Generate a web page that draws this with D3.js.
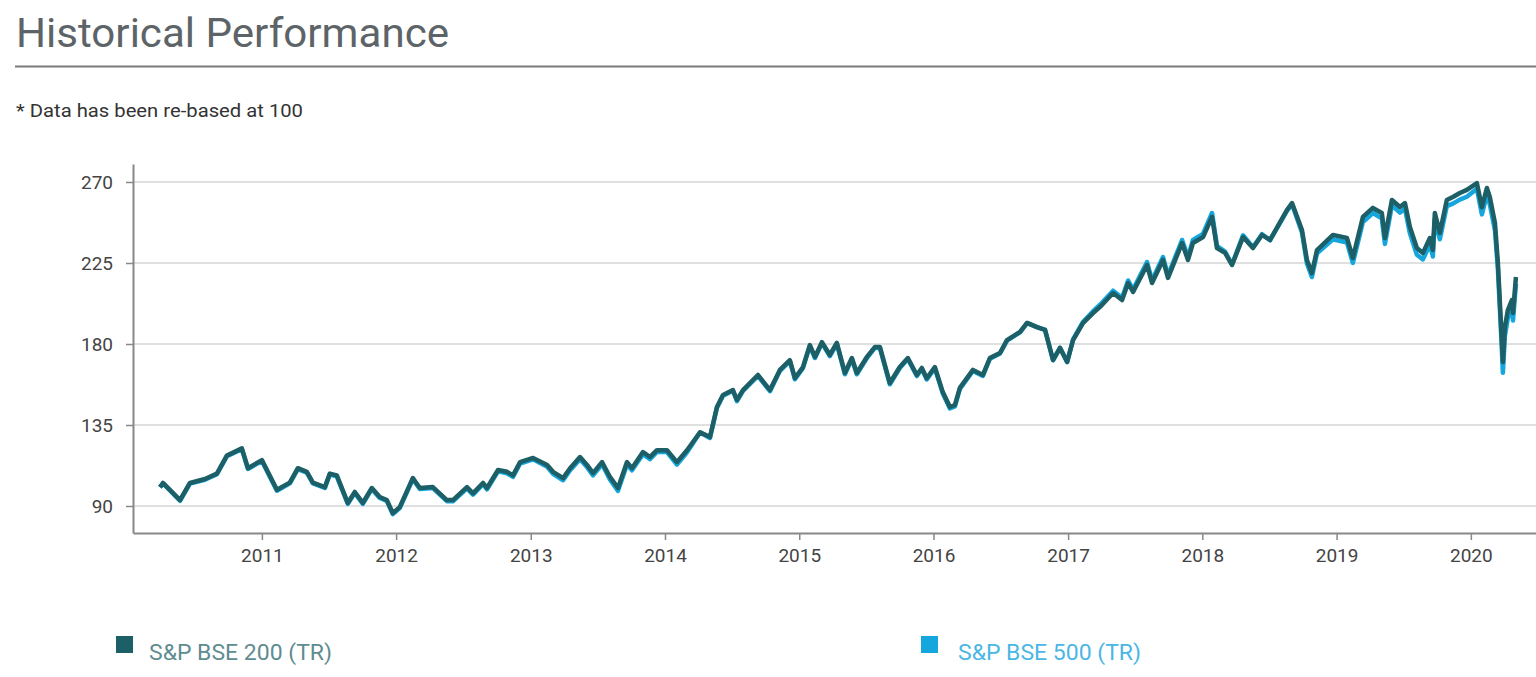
<!DOCTYPE html>
<html>
<head>
<meta charset="utf-8">
<script src="https://cdn.jsdelivr.net/npm/d3@7"></script>
<style>
  body { margin: 0; background: #fff; }
</style>
</head>
<body>
<div id="plot1"></div>
<script>
// dates as decimal years
const dates = [
  2010.241, 2010.263, 2010.315, 2010.390, 2010.464, 2010.576, 2010.665, 2010.739, 2010.851, 2010.896,
  2011.000, 2011.112, 2011.208, 2011.268, 2011.335, 2011.380, 2011.469, 2011.506, 2011.558, 2011.640,
  2011.692, 2011.752, 2011.819, 2011.878, 2011.931, 2011.975, 2012.027,
  2012.124, 2012.176, 2012.273, 2012.377, 2012.422, 2012.526, 2012.571, 2012.645, 2012.675, 2012.757,
  2012.824, 2012.868, 2012.921, 2013.017, 2013.122, 2013.166, 2013.241, 2013.293, 2013.367, 2013.419,
  2013.464, 2013.531, 2013.591,
  2013.650, 2013.717, 2013.754, 2013.836, 2013.888, 2013.940, 2014.015, 2014.089, 2014.164, 2014.261,
  2014.335, 2014.387, 2014.432, 2014.506, 2014.536, 2014.581,
  2014.692, 2014.782, 2014.856, 2014.930, 2014.968, 2015.027, 2015.079, 2015.117, 2015.169, 2015.228,
  2015.280, 2015.340, 2015.392, 2015.429, 2015.504, 2015.563, 2015.601, 2015.675, 2015.749, 2015.809,
  2015.876, 2015.913, 2015.950, 2016.010, 2016.069, 2016.122, 2016.159, 2016.196, 2016.293, 2016.367,
  2016.419, 2016.494, 2016.546, 2016.643,
  2016.695, 2016.769, 2016.829, 2016.888, 2016.940, 2016.993, 2017.037, 2017.112, 2017.186, 2017.238,
  2017.335, 2017.402, 2017.447, 2017.484, 2017.588, 2017.625, 2017.707, 2017.744, 2017.849, 2017.893,
  2017.930, 2018.005, 2018.072, 2018.109, 2018.169, 2018.221, 2018.303, 2018.377, 2018.444, 2018.504,
  2018.630, 2018.668, 2018.742, 2018.779, 2018.816, 2018.854,
  2018.973, 2019.077, 2019.121, 2019.196, 2019.270, 2019.337, 2019.360, 2019.412, 2019.472, 2019.509,
  2019.546, 2019.598, 2019.643, 2019.695, 2019.717, 2019.732, 2019.769, 2019.821, 2019.866, 2019.918,
  2019.970, 2020.045, 2020.082, 2020.119, 2020.141, 2020.179, 2020.201, 2020.231, 2020.238, 2020.253,
  2020.275, 2020.305, 2020.313, 2020.335
];

const bse200 = [
  100.5, 102.8, 99, 93.3, 102.8, 105, 108, 118, 122, 111,
  115.5, 99, 103, 111, 109, 103, 100.5, 108, 107, 91.7,
  97.8, 91.7, 100, 95, 93.3, 86, 89.4,
  105.5, 100, 100.5, 93.3, 93.3, 100.5, 97, 102.8, 100, 110,
  109, 107, 114.4, 116.7, 112.8, 109, 105.5, 111, 117.2, 112.8,
  108.3, 114.4, 106,
  100, 114.4, 111, 120, 117.2, 121, 121, 114.4, 121, 131,
  128.3, 145, 151.7, 154.4, 148.9, 154.4,
  162.8, 154.4, 165.6, 171, 161, 167, 179.4, 172.8, 181, 173.9,
  180.6, 163.9, 172.2, 163.9, 172.8, 178.3, 178.3, 158.3, 167.2, 172.2,
  162.8, 166.7, 161, 167.2, 153.3, 145, 146, 155.6, 165.6, 162.8,
  172.2, 175, 182.2, 186.7,
  191.7, 189.4, 187.8, 171.1, 177.8, 170, 182.2, 191.7, 197.2, 200.6,
  208.3, 204.4, 213.9, 208.9, 223.9, 213.9, 226.7, 216.7, 236.1, 226.7,
  236.1, 239.4, 250.6, 233.3, 230.6, 223.9, 239.4, 233.3, 240.6, 237.8,
  254.4, 258.3, 243.3, 226.7, 219.4, 232.2,
  240.6, 238.9, 227.8, 250.6, 255.6, 252.8, 238.9, 260, 256.1, 258.3,
  245, 233.3, 230.6, 238.9, 232.2, 252.8, 241.7, 260, 261.7, 263.9,
  265.6, 269.4, 256, 266.7, 261.7, 247.2, 225, 180.6, 170, 189.4,
  198.9, 204.4, 197.2, 217.2
];

const bse500 = [
  100.3, 102.5, 98.6, 92.9, 102.4, 104.6, 107.7, 117.6, 121.5, 110.6,
  115.0, 98.5, 102.6, 110.5, 108.5, 102.5, 100.0, 107.5, 106.5, 91.2,
  97.3, 91.2, 99.5, 94.5, 92.8, 85.5, 88.9,
  105.0, 99.4, 100.0, 92.7, 92.6, 99.8, 96.3, 102.1, 99.3, 109.3,
  108.2, 106.2, 113.6, 115.9, 111.8, 107.9, 104.3, 109.9, 116.0, 111.6,
  107.0, 113.2, 104.6,
  98.4, 113.0, 109.8, 118.8, 116.0, 120.0, 120.0, 113.0, 119.8, 130.8,
  127.8, 144.6, 151.3, 154.0, 148.3, 154.0,
  162.3, 153.8, 165.1, 170.5, 160.4, 166.5, 179.0, 172.2, 180.5, 173.3,
  180.1, 163.2, 171.6, 163.2, 172.2, 177.8, 177.8, 157.6, 166.6, 171.7,
  162.2, 166.1, 160.3, 166.6, 152.6, 144.2, 145.3, 155.0, 165.0, 162.3,
  171.8, 174.7, 181.9, 186.5,
  191.6, 189.4, 187.8, 171.0, 177.9, 170.0, 182.6, 192.4, 198.2, 201.8,
  209.6, 205.7, 215.3, 210.2, 225.5, 215.3, 228.3, 218.2, 237.8, 228.3,
  237.8, 241.2, 252.8, 234.5, 231.3, 224.2, 240.4, 233.8, 241.0, 237.6,
  254.0, 257.6, 242.0, 224.8, 217.2, 230.4,
  238.2, 236.4, 225.0, 247.8, 252.8, 249.8, 235.6, 257.0, 253.0, 255.2,
  241.5, 229.6, 227.0, 235.4, 228.6, 249.6, 238.2, 256.6, 258.0, 260.2,
  261.8, 266.2, 252.0, 262.8, 257.6, 243.2, 221.5, 176.0, 164.0, 184.5,
  194.5, 200.0, 193.0, 213.5
];

const yTicks = [90, 135, 180, 225, 270];
const seriesNames = ["S&P BSE 200 (TR)", "S&P BSE 500 (TR)"];

const teal = "#1c5f66";
const blue = "#14a6dd";
const grey = "#5d6468";

const width = 1536;
const height = 677;
const marginTop = 164;
const marginBottom = 144;
const marginLeft = 133;
const marginRight = 0;

function toDate(dy) {
  const yr = Math.floor(dy);
  const a = new Date(yr, 0, 1), b = new Date(yr + 1, 0, 1);
  return new Date(+a + (dy - yr) * (b - a));
}

const x = d3.scaleTime()
  .domain([toDate(2010.04), toDate(2020.484)])
  .range([marginLeft, width - marginRight]);

const y = d3.scaleLinear()
  .domain([75, 280])
  .range([height - marginBottom, marginTop]);

const svg = d3.create("svg")
  .attr("width", width)
  .attr("height", height)
  .attr("viewBox", [0, 0, width, height])
  .style("font-family", "Roboto, sans-serif");

// title + rule
svg.append("text")
  .attr("x", 16)
  .attr("y", 47)
  .attr("fill", grey)
  .attr("textLength", 433)
  .attr("lengthAdjust", "spacingAndGlyphs")
  .style("font-size", "40px")
  .text("Historical Performance");

svg.append("line")
  .attr("x1", 15).attr("x2", width)
  .attr("y1", 66.5).attr("y2", 66.5)
  .attr("stroke", "#7a7a7a")
  .attr("stroke-width", 2);

svg.append("text")
  .attr("x", 16)
  .attr("y", 117)
  .attr("fill", "#333")
  .attr("textLength", 287)
  .attr("lengthAdjust", "spacingAndGlyphs")
  .style("font-size", "18px")
  .text("* Data has been re-based at 100");

// grid
svg.append("g")
  .selectAll("line")
  .data(yTicks)
  .join("line")
  .attr("x1", marginLeft).attr("x2", width)
  .attr("y1", d => y(d)).attr("y2", d => y(d))
  .attr("stroke", "#e0e0e0")
  .attr("stroke-width", 2);

// axes
svg.append("g")
  .attr("transform", `translate(0,${height - marginBottom})`)
  .call(d3.axisBottom(x).ticks(d3.timeYear.every(1)).tickFormat(d3.timeFormat("%Y")).tickSize(7).tickPadding(9).tickSizeOuter(0))
  .call(g => g.select(".domain").attr("stroke", "#888").attr("stroke-width", 2))
  .call(g => g.selectAll(".tick line").attr("stroke", "#888").attr("stroke-width", 1.5))
  .call(g => g.selectAll("text").attr("fill", "#444").style("font-size", "19px").style("font-family", "Roboto, sans-serif"));

svg.append("g")
  .attr("transform", `translate(${marginLeft},0)`)
  .call(d3.axisLeft(y).tickValues(yTicks).tickSize(7).tickPadding(13).tickSizeOuter(0))
  .call(g => g.select(".domain").attr("stroke", "#888").attr("stroke-width", 2))
  .call(g => g.selectAll(".tick line").attr("stroke", "#888").attr("stroke-width", 1.5))
  .call(g => g.selectAll("text").attr("fill", "#444").style("font-size", "19px").style("font-family", "Roboto, sans-serif"));

const line = d3.line()
  .x((d, i) => x(toDate(dates[i])))
  .y(d => y(d));

svg.append("path")
  .attr("d", line(bse500))
  .attr("fill", "none")
  .attr("stroke", blue)
  .attr("stroke-width", 4.5)
  .attr("stroke-linejoin", "round");

svg.append("path")
  .attr("d", line(bse200))
  .attr("fill", "none")
  .attr("stroke", teal)
  .attr("stroke-width", 4.5)
  .attr("stroke-linejoin", "round");

// legend
const legend = svg.append("g");
const legendX = [116, 921];
const legendTextX = [149, 958];
const legendText = ["#5e8c90", "#4ab6e4"];
[teal, blue].forEach((c, i) => {
  legend.append("rect")
    .attr("x", legendX[i]).attr("y", 636)
    .attr("width", 17).attr("height", 17)
    .attr("fill", c);
  legend.append("text")
    .attr("x", legendTextX[i])
    .attr("y", 660)
    .attr("fill", legendText[i])
    .attr("textLength", 183)
    .attr("lengthAdjust", "spacingAndGlyphs")
    .style("font-size", "22px")
    .text(seriesNames[i]);
});

document.querySelector("#plot1").append(svg.node());
</script>
</body>
</html>
